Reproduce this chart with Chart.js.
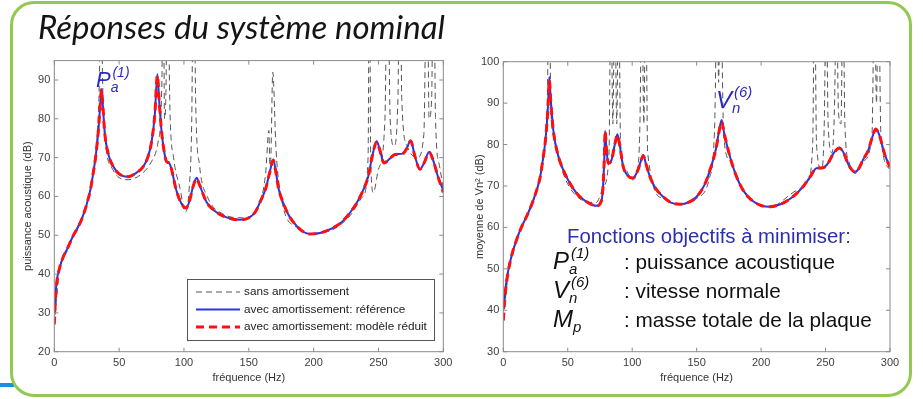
<!DOCTYPE html>
<html>
<head>
<meta charset="utf-8">
<script src="https://cdn.jsdelivr.net/npm/chart.js@4.4.1/dist/chart.umd.min.js"></script>
<style>
html, body { margin: 0; padding: 0; background: #fff; }
body { width: 923px; height: 399px; position: relative; overflow: hidden; }
#frame { position: absolute; left: 10px; top: 1px; width: 902px; height: 396px; box-sizing: border-box;
         border: 3px solid #93c953; border-radius: 24px; }
#tab { position: absolute; left: 0; top: 383px; width: 14px; height: 4px; background: #1d8fd8; }
canvas { position: absolute; }
#titleCanvas { left: 0; top: 0; }
#leftChart { left: 0; top: 50px; }
#rightChart { left: 460px; top: 50px; }
</style>
</head>
<body>
<div id="tab"></div>
<div id="frame"></div>
<canvas id="titleCanvas" width="923" height="50"></canvas>
<canvas id="leftChart" width="460" height="340"></canvas>
<canvas id="rightChart" width="463" height="340"></canvas>
<script>
// values (dB vs Hz)

// left: puissance acoustique
const freqLeft = [0, 1, 2, 4, 7, 10, 14, 17.3, 21, 25, 28, 30, 32, 34, 35.5, 36.3, 37.5, 39, 42, 45.5,
  50, 57, 63, 68.6, 72, 75, 77.5, 79.5, 81, 82.8, 85, 86.5, 88.5, 90, 94, 98, 101.5, 104, 107, 109.8,
  112, 117.5, 124, 130, 137, 143, 150, 155, 158.6, 163, 166, 168.9, 171, 173, 176.6, 181, 186.9, 192, 197, 205,
  215, 222, 228, 233, 238.3, 242, 245, 248.6, 251, 254.3, 258, 262.7, 269, 272, 274.8, 278, 282, 285, 289.2, 292,
  296, 300];
const refLeft = [30, 35, 38.5, 41.5, 44.5, 46.5, 49.5, 51.5, 54, 58, 62, 66, 70.5, 77, 84, 87.7, 83, 76, 70.5, 67.7,
  65.8, 65.1, 66, 67.7, 70, 74, 81, 91.5, 84, 76.5, 71, 69, 68.6, 67.5, 61.7, 58.2, 57, 58.5, 62.5, 64.8,
  63, 58.5, 56.2, 55, 54.2, 54, 54.5, 56, 58.5, 62, 66, 69.5, 66, 62, 58.3, 55, 52.4, 50.9, 50.3, 50.6,
  51.9, 53.5, 55.8, 58.2, 61.7, 65, 70, 74.2, 72, 68.6, 69.5, 70.8, 71.1, 72.5, 74.5, 70.5, 67, 68.5, 71.5, 69.5,
  65, 61.5];
const reducedLeft = [27, 34, 38, 41.5, 44.5, 46.5, 49.5, 51.5, 54, 58, 62, 66, 70.5, 77, 84, 87.5, 83, 76, 70.5, 67.7,
  65.8, 65.1, 66, 67.7, 70, 74, 81, 91.2, 84, 76.5, 71, 69, 68.6, 67.5, 61.7, 58.2, 57, 58.5, 62.5, 64.6,
  63, 58.5, 56.2, 55, 54.2, 54, 54.5, 56, 58.5, 62, 66, 69.3, 66, 62, 58.3, 55, 52.4, 50.9, 50.3, 50.6,
  51.9, 53.5, 55.8, 58.2, 61.7, 65, 70, 74, 72, 68.6, 69.5, 70.8, 71.1, 72.5, 74.3, 70.5, 67, 68.5, 71.3, 69.5,
  65, 61];
const freqUndampedLeft = [0, 4, 10, 17, 25, 30, 33, 35, 36, 37, 39, 45, 57, 68, 75, 80, 83, 84, 85, 86, 87.5,
  89, 92, 97, 101, 104, 106, 107.5, 109, 112, 118, 130, 145, 158, 163, 165.5, 166.2, 167, 168.5, 171, 176, 187,
  197, 215, 228, 238, 242, 243, 244, 246, 250, 255, 257, 259, 262, 265, 266.5, 268, 272, 280, 285, 287.5,
  289, 291, 292.5, 294, 297, 300];
const undampedLeft = [27, 41, 46, 51.5, 58, 66, 75, 95, 130, 95, 76, 67, 64.3, 66, 69, 74, 90, 130, 80, 85, 130,
  85, 70, 62, 56, 62, 80, 130, 85, 68, 60, 55.5, 54.5, 58, 66, 77, 68, 70, 92, 72, 58, 52,
  50.5, 51.5, 55, 60, 70, 130, 70, 61, 67, 80, 130, 80, 73, 85, 130, 85, 73, 70, 76, 130,
  80, 85, 130, 80, 68, 62];

// right: moyenne de Vn^2
const freqRight = [0, 1, 2, 3.9, 7, 10.3, 14, 18, 22, 25.9, 28.5, 31, 33, 34.8, 35.7, 36.8, 38.8, 42, 46.5, 51,
  57, 64, 72.5, 75.5, 77, 78.3, 79, 80, 81.5, 84, 86.5, 88.5, 90.5, 93, 96.5, 100.4, 104, 106.5, 108.6, 110.5,
  113.8, 118, 124, 130, 137, 144, 150, 156, 160.4, 165, 167.5, 169.4, 171.5, 175.9, 180, 186, 193, 200, 207, 215,
  222, 227.6, 233, 238, 243, 248, 252, 256, 260.7, 264, 268, 272.8, 276, 279, 283, 286, 289, 292, 296, 300];
const refRight = [40, 43, 46, 49.7, 53.8, 57, 60, 62.6, 65.5, 69, 72, 77, 82, 90, 96.3, 91, 83.5, 78, 73.9, 71,
  68.2, 66.3, 65.2, 66, 68.2, 76, 83.3, 79, 75.5, 76.3, 80, 82.5, 79.5, 74.7, 72.5, 71.9, 73.5, 75.8, 77.5, 75.5,
  72.2, 69.5, 67.4, 66, 65.6, 66.1, 67.4, 70.2, 73.9, 79, 83.5, 85.9, 82.5, 77, 73, 69, 66.5, 65.3, 65, 65.6,
  66.8, 68.2, 70, 72.2, 74.3, 74.4, 75.5, 77.8, 79.3, 78, 75, 73.4, 74.3, 76.3, 78.5, 81.5, 83.9, 82, 77.5, 74.7];
const reducedRight = [37.5, 42, 45.5, 49.5, 53.8, 57, 60, 62.6, 65.5, 69, 72, 77, 82, 89.5, 95.5, 90.5, 83.5, 78, 73.9, 71,
  68.2, 66.3, 65.2, 66, 68.2, 76, 83.3, 79, 75.5, 76.3, 80, 82.3, 79.5, 74.7, 72.5, 71.9, 73.5, 75.8, 77.3, 75.5,
  72.2, 69.5, 67.4, 66, 65.6, 66.1, 67.4, 70.2, 73.9, 79, 83.3, 85.5, 82.5, 77, 73, 69, 66.5, 65.3, 65, 65.6,
  66.8, 68.2, 70, 72.2, 74.3, 74.4, 75.5, 77.8, 79.1, 78, 75, 73.4, 74.3, 76.3, 78.5, 81.5, 83.7, 82, 77.5, 74.5];
const freqUndampedRight = [0, 4, 10, 18, 26, 31, 34, 35.5, 37, 39, 46.5, 57, 72, 78, 82, 83.5, 85, 86.5, 88, 89.5,
  91, 95, 100, 104, 106, 107.5, 109, 110.5, 112, 124, 137, 150, 160, 164, 166, 167, 168.5, 171, 176, 186,
  207, 228, 236, 240, 241.5, 243, 247, 249, 250.5, 252, 255, 257, 258.5, 260, 262, 263.5, 265, 268, 273, 279,
  286, 288, 289.5, 291, 293, 300];
const undampedRight = [38, 49, 57, 62.6, 69, 77, 88, 120, 88, 82, 73, 67.5, 66, 70, 78, 120, 85, 120, 85, 120,
  80, 74, 71.5, 74, 85, 120, 85, 120, 78, 67, 65.5, 67, 72, 85, 120, 95, 120, 82, 76, 69,
  65, 69, 71, 80, 120, 80, 74, 85, 120, 85, 78, 90, 120, 88, 85, 120, 85, 76, 73, 76,
  82, 120, 90, 120, 82, 74];

const xTicks = { min: 0, max: 300, step: 50 };
const legendLabels = ['sans amortissement', 'avec amortissement: référence', 'avec amortissement: modèle réduit'];

const SANS = '"Liberation Sans", Arial, sans-serif';

function pts(xs, ys) {
  return xs.map((x, i) => ({ x: x, y: ys[i] }));
}

function fitSize(ctx, text, width, style, family) {
  ctx.font = style + ' 100px ' + family;
  return 100 * width / ctx.measureText(text).width;
}

// symbol like P_a^(1)
function drawSymbol(ctx, x, y, main, sub, sup, size, color) {
  ctx.save();
  ctx.fillStyle = color;
  ctx.textBaseline = 'alphabetic';
  ctx.textAlign = 'left';
  ctx.font = 'italic ' + size + 'px ' + SANS;
  ctx.fillText(main, x, y);
  const w = ctx.measureText(main).width;
  ctx.font = 'italic ' + Math.round(size * 0.62) + 'px ' + SANS;
  if (sub) ctx.fillText(sub, x + w, y + size * 0.22);
  if (sup) ctx.fillText(sup, x + w + size * 0.08, y - size * 0.45);
  ctx.restore();
}

// matlab style axes box with inner tick marks
const matlabBox = {
  id: 'matlabBox',
  afterDatasetsDraw(chart) {
    const { ctx, chartArea: a, scales } = chart;
    ctx.save();
    ctx.strokeStyle = '#8a8a8a';
    ctx.lineWidth = 1;
    ctx.strokeRect(a.left, a.top, a.right - a.left, a.bottom - a.top);
    ctx.beginPath();
    scales.x.ticks.forEach(t => {
      const px = scales.x.getPixelForValue(t.value);
      ctx.moveTo(px, a.bottom); ctx.lineTo(px, a.bottom - 4);
      ctx.moveTo(px, a.top); ctx.lineTo(px, a.top + 4);
    });
    scales.y.ticks.forEach(t => {
      const py = scales.y.getPixelForValue(t.value);
      ctx.moveTo(a.left, py); ctx.lineTo(a.left + 4, py);
      ctx.moveTo(a.right, py); ctx.lineTo(a.right - 4, py);
    });
    ctx.stroke();
    ctx.restore();
  }
};

function lineSets(freq, ref, reduced, freqU, undamped) {
  return [
    {
      label: legendLabels[2], data: pts(freq, reduced),
      borderColor: '#ff1010', borderWidth: 3, borderDash: [8, 5]
    },
    {
      label: legendLabels[1], data: pts(freq, ref),
      borderColor: '#2b35e0', borderWidth: 2
    },
    {
      label: legendLabels[0], data: pts(freqU, undamped),
      borderColor: '#555555', borderWidth: 1, borderDash: [6, 4]
    }
  ].map(d => Object.assign(d, { pointRadius: 0, cubicInterpolationMode: 'monotone', clip: 0, fill: false }));
}

function makeChart(id, cfg) {
  return new Chart(document.getElementById(id), {
    type: 'line',
    data: { datasets: lineSets(cfg.freq, cfg.ref, cfg.reduced, cfg.freqU, cfg.undamped) },
    options: {
      responsive: false,
      animation: false,
      layout: { padding: cfg.padding },
      plugins: { legend: { display: false }, tooltip: { enabled: false } },
      scales: {
        x: {
          type: 'linear', min: xTicks.min, max: xTicks.max,
          grid: { display: false, drawTicks: false }, border: { display: false },
          ticks: { stepSize: xTicks.step, autoSkip: false, maxRotation: 0, padding: 5,
                   color: '#404040', font: { family: SANS, size: 11 } },
          title: { display: true, text: 'fréquence (Hz)', color: '#333',
                   font: { family: SANS, size: 11 }, padding: { top: 0, bottom: 5 } },
          afterFit: s => { s.height = cfg.xHeight; }
        },
        y: {
          min: cfg.yMin, max: cfg.yMax,
          grid: { display: false, drawTicks: false }, border: { display: false },
          ticks: { stepSize: 10, includeBounds: false, padding: 4,
                   color: '#404040', font: { family: SANS, size: 11 } },
          title: { display: true, text: cfg.yTitle, color: '#333',
                   font: { family: SANS, size: 11 }, padding: { top: cfg.yTitlePad, bottom: 0 } },
          afterFit: s => { s.width = cfg.yWidth; }
        }
      }
    },
    plugins: [matlabBox, { id: 'notes', afterDraw: cfg.notes }]
  });
}

// title
(function () {
  const ctx = document.getElementById('titleCanvas').getContext('2d');
  const text = 'Réponses du système nominal';
  const size = fitSize(ctx, text, 407, 'italic', 'Lato');
  ctx.font = 'italic ' + size + 'px Lato';
  ctx.fillStyle = '#141414';
  ctx.fillText(text, 38, 39);
})();

makeChart('leftChart', {
  freq: freqLeft, ref: refLeft, reduced: reducedLeft, freqU: freqUndampedLeft, undamped: undampedLeft,
  yMin: 20, yMax: 95, yTitle: 'puissance acoustique (dB)', yTitlePad: 21,
  padding: { left: 0, right: 16.7, top: 8.3, bottom: 0 }, yWidth: 54.3, xHeight: 38.3,
  notes(chart) {
    const ctx = chart.ctx;
    drawSymbol(ctx, 96, 37, 'P', 'a', '(1)', 22, '#2a2ac0');
    // legend box
    const lx = 187, ly = 229, lw = 247, lh = 61;
    ctx.save();
    ctx.fillStyle = '#fff';
    ctx.fillRect(lx, ly, lw, lh);
    ctx.strokeStyle = '#555';
    ctx.lineWidth = 1;
    ctx.strokeRect(lx + 0.5, ly + 0.5, lw, lh);
    const ds = chart.data.datasets;
    const rows = [ds[2], ds[1], ds[0]];
    const fs = fitSize(ctx, legendLabels[2], 183, '', SANS);
    rows.forEach((d, i) => {
      const y = ly + 13 + i * 17.5;
      ctx.beginPath();
      ctx.strokeStyle = d.borderColor;
      ctx.lineWidth = d.borderWidth;
      ctx.setLineDash(d.borderDash || []);
      ctx.moveTo(lx + 9, y);
      ctx.lineTo(lx + 53, y);
      ctx.stroke();
      ctx.setLineDash([]);
      ctx.fillStyle = '#222';
      ctx.font = fs + 'px ' + SANS;
      ctx.textBaseline = 'middle';
      ctx.fillText(legendLabels[i], lx + 57, y);
    });
    ctx.restore();
  }
});

makeChart('rightChart', {
  freq: freqRight, ref: refRight, reduced: reducedRight, freqU: freqUndampedRight, undamped: undampedRight,
  yMin: 30, yMax: 100, yTitle: 'moyenne de Vn² (dB)', yTitlePad: 13.4,
  padding: { left: 0, right: 33, top: 11.7, bottom: 0 }, yWidth: 43.3, xHeight: 38.3,
  notes(chart) {
    const ctx = chart.ctx;
    drawSymbol(ctx, 256, 58, 'V', 'n', '(6)', 24, '#2a2ac0');
    ctx.save();
    const head = 'Fonctions objectifs à minimiser:';
    ctx.font = fitSize(ctx, head, 284, '', SANS) + 'px ' + SANS;
    ctx.fillStyle = '#2d2db0';
    ctx.fillText(head, 107, 193);
    const fs = fitSize(ctx, ': masse totale de la plaque', 248, '', SANS);
    const rows = [['P', 'a', '(1)', ': puissance acoustique'],
                  ['V', 'n', '(6)', ': vitesse normale'],
                  ['M', 'p', '', ': masse totale de la plaque']];
    rows.forEach((r, i) => {
      const y = 219 + i * 29;
      drawSymbol(ctx, 93, y, r[0], r[1], r[2], 24, '#111');
      ctx.font = fs + 'px ' + SANS;
      ctx.fillStyle = '#111';
      ctx.fillText(r[3], 164, y);
    });
    ctx.restore();
  }
});
</script>
</body>
</html>
